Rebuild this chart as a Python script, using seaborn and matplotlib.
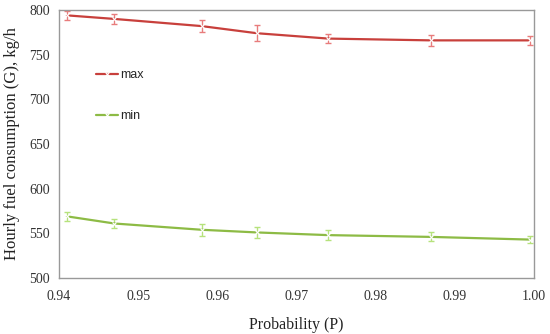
import numpy as np
import pandas as pd
import matplotlib
matplotlib.use("Agg")
import matplotlib.pyplot as plt
import seaborn as sns

# values
prob = [0.941, 0.947, 0.958, 0.965, 0.974, 0.987, 0.9995]
g_max = [794, 790, 782, 774, 768, 766, 766]
g_max_err = [5, 6, 7, 9, 5, 6, 5]
g_min = [569, 561, 554, 551, 548, 546, 543]
g_min_err = [5, 5, 7, 6, 6, 5, 4]

x_ticks = [0.94, 0.95, 0.96, 0.97, 0.98, 0.99, 1.00]
y_ticks = [500, 550, 600, 650, 700, 750, 800]

df = pd.DataFrame({
    "P": prob * 2,
    "G": g_max + g_min,
    "err": g_max_err + g_min_err,
    "series": ["max"] * len(prob) + ["min"] * len(prob),
})

sns.set_style("white")
plt.rcParams["font.family"] = ["Liberation Serif", "DejaVu Serif"]

line_col = {"max": "#C8403C", "min": "#8DBB45"}
err_col = {"max": "#E87C7C", "min": "#B6E27C"}

fig = plt.figure(figsize=(5.5, 3.34), dpi=100)
ax = fig.add_axes([59 / 550, 1 - 278 / 334, 475 / 550, 268 / 334])

for name in ["max", "min"]:
    sub = df[df.series == name]
    ax.errorbar(sub.P, sub.G, yerr=sub.err, fmt="none", ecolor=err_col[name],
                elinewidth=1.0, capsize=2.5, capthick=1.0, zorder=2)
sns.lineplot(data=df, x="P", y="G", hue="series", palette=line_col,
             marker="x", markersize=3, markeredgewidth=0.8, linewidth=1.6,
             ax=ax, zorder=3)

ax.set_xlim(0.94, 1.00)
ax.set_ylim(500, 800)
ax.set_xticks(x_ticks)
ax.set_xticklabels([f"{t:.2f}" for t in x_ticks])
ax.set_yticks(y_ticks)
ax.tick_params(axis="both", direction="out", length=3, width=0.8,
               color="#999999", labelsize=10, colors="#333333")
ax.tick_params(axis="x", pad=6)
for s in ax.spines.values():
    s.set_color("#999999")
    s.set_linewidth(1.0)

ax.set_xlabel("Probability (P)", fontsize=11.5, labelpad=10, color="#222222")
ax.set_ylabel("Hourly fuel consumption (G), kg/h", fontsize=12, labelpad=7,
              color="#222222")

leg = ax.legend(loc="upper left", bbox_to_anchor=(0.055, 0.82), frameon=False,
                handlelength=1.7, handletextpad=0.2, labelspacing=2.3,
                prop={"family": ["Liberation Sans", "DejaVu Sans"], "size": 9})

fig.savefig("out.png", dpi=100)
